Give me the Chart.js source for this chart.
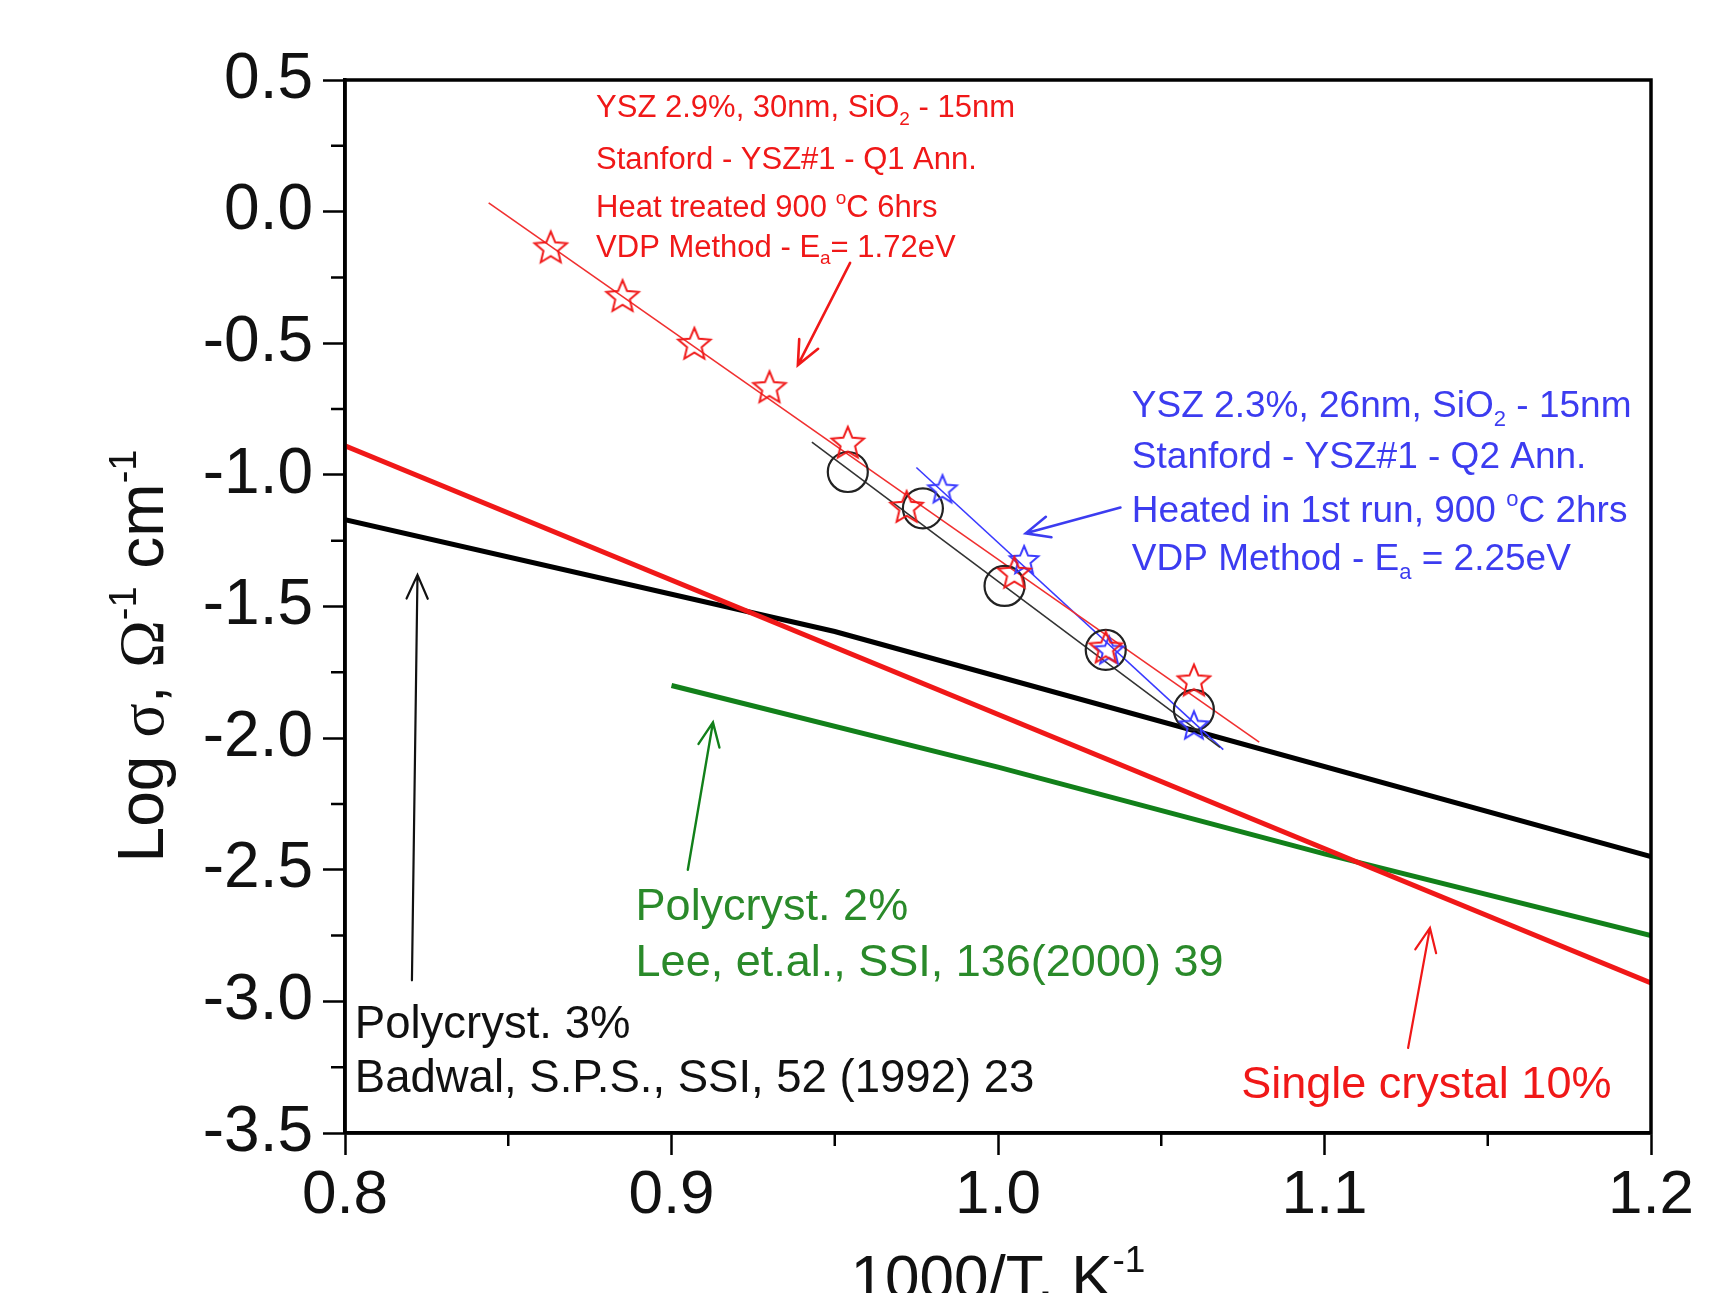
<!DOCTYPE html>
<html>
<head>
<meta charset="utf-8">
<title>Log sigma vs 1000/T</title>
<script src="https://cdn.jsdelivr.net/npm/chart.js@4.4.1/dist/chart.umd.min.js"></script>
<style>
  html, body { margin: 0; padding: 0; background: #fff; }
  canvas { display: block; }
</style>
</head>
<body>
<canvas id="arrhenius" width="1722" height="1293"></canvas>
<script>
// ---- values: x = 1000/T (1/K), y = log sigma ----
const xTicks = [0.8, 0.9, 1.0, 1.1, 1.2];
const yTicks = [-3.5, -3.0, -2.5, -2.0, -1.5, -1.0, -0.5, 0.0, 0.5];

// literature lines
const singleX = [0.80, 1.20];
const singleY = [-0.89, -2.93];
const badwalX = [0.80, 0.95, 1.20];
const badwalY = [-1.17, -1.595, -2.45];
const leeX = [0.90, 1.00, 1.10, 1.20];
const leeY = [-1.80, -2.11, -2.44, -2.75];

// Q1 annealed film (red stars) + fit
const q1X = [0.863, 0.885, 0.907, 0.930, 0.954, 0.972, 1.005, 1.033, 1.060];
const q1Y = [-0.14, -0.325, -0.506, -0.671, -0.882, -1.126, -1.376, -1.660, -1.785];
const q1FitX = [0.844, 1.080];
const q1FitY = [0.033, -2.015];

// open circles + fit
const circX = [0.954, 0.977, 1.002, 1.033, 1.060];
const circY = [-0.989, -1.127, -1.422, -1.665, -1.893];
const circFitX = [0.943, 1.068];
const circFitY = [-0.876, -2.035];

// Q2 annealed film (blue stars) + fit
const q2X = [0.983, 1.008, 1.034, 1.060];
const q2Y = [-1.058, -1.327, -1.670, -1.955];
const q2FitX = [0.975, 1.069];
const q2FitY = [-0.972, -2.044];

const RED = '#f01818';
const BLUE = '#3c3cf0';
const GREEN = '#12801a';
const SANS = "'Liberation Sans', Arial, sans-serif";
const SERIF = "'Liberation Serif', 'DejaVu Serif', serif";

function pts(xs, ys) {
    return xs.map((x, i) => ({ x: x, y: ys[i] }));
}

// open five-pointed star used as a point style
function makeStar(color, r, lw) {
    const c = document.createElement('canvas');
    const s = Math.ceil(2 * r + 2 * lw + 2);
    c.width = s; c.height = s;
    const g = c.getContext('2d');
    g.strokeStyle = color;
    g.lineWidth = lw;
    g.beginPath();
    for (let i = 0; i < 10; i++) {
        const rad = i % 2 === 0 ? r : r * 0.45;
        const a = -Math.PI / 2 + i * Math.PI / 5;
        const px = s / 2 + rad * Math.cos(a);
        const py = s / 2 + rad * Math.sin(a);
        if (i === 0) g.moveTo(px, py); else g.lineTo(px, py);
    }
    g.closePath();
    g.stroke();
    return c;
}

// very small rich-text: ^{sup}, _{sub}, ~{serif}
function parseRich(str) {
    const out = [];
    const re = /([\^_~])\{([^}]*)\}/g;
    let last = 0, m;
    while ((m = re.exec(str))) {
        if (m.index > last) out.push({ t: str.slice(last, m.index), mode: 'n' });
        out.push({ t: m[2], mode: m[1] === '^' ? 'sup' : (m[1] === '_' ? 'sub' : 'serif') });
        last = re.lastIndex;
    }
    if (last < str.length) out.push({ t: str.slice(last), mode: 'n' });
    return out;
}

function drawRich(ctx, str, x, y, size, color, align) {
    const segs = parseRich(str);
    ctx.save();
    ctx.fillStyle = color;
    ctx.textBaseline = 'alphabetic';
    ctx.textAlign = 'left';
    let total = 0;
    segs.forEach(s => {
        const small = s.mode === 'sup' || s.mode === 'sub';
        s.font = (small ? Math.round(size * 0.6) : size) + 'px ' + (s.mode === 'serif' ? SERIF : SANS);
        ctx.font = s.font;
        s.w = ctx.measureText(s.t).width;
        total += s.w;
    });
    let cx = align === 'center' ? x - total / 2 : x;
    segs.forEach(s => {
        ctx.font = s.font;
        let dy = 0;
        if (s.mode === 'sup') dy = -0.42 * size;
        if (s.mode === 'sub') dy = 0.24 * size;
        ctx.fillText(s.t, cx, y + dy);
        cx += s.w;
    });
    ctx.restore();
}

function drawArrow(ctx, x1, y1, x2, y2, color, width) {
    const ang = Math.atan2(y2 - y1, x2 - x1);
    const head = 26, spread = 0.42;
    ctx.save();
    ctx.strokeStyle = color;
    ctx.lineWidth = width;
    ctx.lineCap = 'round';
    ctx.beginPath();
    ctx.moveTo(x1, y1);
    ctx.lineTo(x2, y2);
    ctx.moveTo(x2 - head * Math.cos(ang - spread), y2 - head * Math.sin(ang - spread));
    ctx.lineTo(x2, y2);
    ctx.lineTo(x2 - head * Math.cos(ang + spread), y2 - head * Math.sin(ang + spread));
    ctx.stroke();
    ctx.restore();
}

// annotations, anchored in data units
const arrows = [
    { from: [0.9547, -0.195], to: [0.9387, -0.583], color: RED, width: 2.6 },
    { from: [1.0375, -1.124], to: [1.0085, -1.222], color: BLUE, width: 2.6 },
    { from: [0.8205, -2.920], to: [0.8222, -1.380], color: '#111', width: 2.2 },
    { from: [0.9050, -2.500], to: [0.9127, -1.940], color: GREEN, width: 2.4 },
    { from: [1.1256, -3.177], to: [1.1323, -2.721], color: RED, width: 2.2 }
];

const notes = [
    { x: 0.8769, y: 0.359, size: 31, color: RED, text: 'YSZ 2.9%, 30nm, SiO_{2} - 15nm' },
    { x: 0.8769, y: 0.162, size: 31, color: RED, text: 'Stanford - YSZ#1 - Q1 Ann.' },
    { x: 0.8769, y: -0.020, size: 31, color: RED, text: 'Heat treated 900 ^{o}C 6hrs' },
    { x: 0.8769, y: -0.172, size: 31, color: RED, text: 'VDP Method - E_{a}= 1.72eV' },
    { x: 1.0410, y: -0.780, size: 37, color: BLUE, text: 'YSZ 2.3%, 26nm, SiO_{2} - 15nm' },
    { x: 1.0410, y: -0.974, size: 37, color: BLUE, text: 'Stanford - YSZ#1 - Q2 Ann.' },
    { x: 1.0410, y: -1.179, size: 37, color: BLUE, text: 'Heated in 1st run, 900 ^{o}C 2hrs' },
    { x: 1.0410, y: -1.361, size: 37, color: BLUE, text: 'VDP Method - E_{a} = 2.25eV' },
    { x: 0.8890, y: -2.691, size: 45, color: '#2a8a2a', text: 'Polycryst. 2%' },
    { x: 0.8890, y: -2.904, size: 45, color: '#2a8a2a', text: 'Lee, et.al., SSI, 136(2000) 39' },
    { x: 0.8030, y: -3.139, size: 45.5, color: '#111', text: 'Polycryst. 3%' },
    { x: 0.8030, y: -3.344, size: 45.5, color: '#111', text: 'Badwal, S.P.S., SSI, 52 (1992) 23' },
    { x: 1.0745, y: -3.367, size: 45, color: RED, text: 'Single crystal 10%' }
];

const annotationPlugin = {
    id: 'notes',
    afterDatasetsDraw(chart) {
        const ctx = chart.ctx;
        const sx = chart.scales.x, sy = chart.scales.y;
        arrows.forEach(a => {
            drawArrow(ctx,
                sx.getPixelForValue(a.from[0]), sy.getPixelForValue(a.from[1]),
                sx.getPixelForValue(a.to[0]), sy.getPixelForValue(a.to[1]),
                a.color, a.width);
        });
        notes.forEach(n => {
            drawRich(ctx, n.text, sx.getPixelForValue(n.x), sy.getPixelForValue(n.y), n.size, n.color, 'left');
        });
    }
};

// frame, minor ticks and axis titles
const framePlugin = {
    id: 'frame',
    afterDraw(chart) {
        const ctx = chart.ctx;
        const area = chart.chartArea;
        const sx = chart.scales.x, sy = chart.scales.y;
        ctx.save();
        ctx.strokeStyle = '#000';
        ctx.lineWidth = 3.5;
        ctx.strokeRect(area.left, area.top, area.right - area.left, area.bottom - area.top);

        ctx.lineWidth = 2.5;
        ctx.beginPath();
        for (let i = 0; i < xTicks.length - 1; i++) {
            const px = sx.getPixelForValue((xTicks[i] + xTicks[i + 1]) / 2);
            ctx.moveTo(px, area.bottom);
            ctx.lineTo(px, area.bottom + 13);
        }
        for (let i = 0; i < yTicks.length - 1; i++) {
            const py = sy.getPixelForValue((yTicks[i] + yTicks[i + 1]) / 2);
            ctx.moveTo(area.left, py);
            ctx.lineTo(area.left - 14, py);
        }
        ctx.stroke();
        ctx.restore();

        // axis titles
        drawRich(ctx, '1000/T, K^{-1}', (area.left + area.right) / 2, 1298, 62, '#111', 'center');
        ctx.save();
        ctx.translate(163, 656);
        ctx.rotate(-Math.PI / 2);
        drawRich(ctx, 'Log ~{σ}, ~{Ω}^{-1} cm^{-1}', 0, 0, 64, '#111', 'center');
        ctx.restore();
    }
};

const starRed = makeStar(RED, 17, 2);
const starBlue = makeStar('#3a3aff', 15, 2);

new Chart(document.getElementById('arrhenius'), {
    type: 'scatter',
    data: {
        datasets: [
            { label: 'Q1 Ann.', data: pts(q1X, q1Y), pointStyle: starRed, pointRadius: 17, showLine: false, order: 1 },
            { label: 'Q2 Ann.', data: pts(q2X, q2Y), pointStyle: starBlue, pointRadius: 15, showLine: false, order: 1 },
            { label: 'circles', data: pts(circX, circY), pointStyle: 'circle', pointRadius: 20,
              borderColor: '#222', backgroundColor: 'rgba(0,0,0,0)', borderWidth: 2.2, showLine: false, order: 1 },
            { label: 'Q1 fit', data: pts(q1FitX, q1FitY), showLine: true, borderColor: '#f03030', borderWidth: 1.6, pointRadius: 0, order: 2 },
            { label: 'circle fit', data: pts(circFitX, circFitY), showLine: true, borderColor: '#333', borderWidth: 1.6, pointRadius: 0, order: 2 },
            { label: 'Q2 fit', data: pts(q2FitX, q2FitY), showLine: true, borderColor: '#3a3aff', borderWidth: 1.6, pointRadius: 0, order: 2 },
            { label: 'Single crystal 10%', data: pts(singleX, singleY), showLine: true, borderColor: RED, borderWidth: 5, pointRadius: 0, order: 3 },
            { label: 'Polycryst. 3%', data: pts(badwalX, badwalY), showLine: true, borderColor: '#000', borderWidth: 5, pointRadius: 0, order: 3 },
            { label: 'Polycryst. 2%', data: pts(leeX, leeY), showLine: true, borderColor: GREEN, borderWidth: 5, pointRadius: 0, order: 3 }
        ]
    },
    options: {
        responsive: false,
        animation: false,
        devicePixelRatio: 1,
        layout: { padding: { top: 80, right: 71, left: 0, bottom: 0 } },
        plugins: {
            legend: { display: false },
            tooltip: { enabled: false }
        },
        scales: {
            x: {
                type: 'linear',
                min: 0.8,
                max: 1.2,
                afterBuildTicks: s => { s.ticks = xTicks.map(v => ({ value: v })); },
                afterFit: s => { s.height = 160; },
                ticks: {
                    callback: v => Number(v).toFixed(1),
                    font: { family: SANS, size: 62 },
                    color: '#111',
                    padding: 4,
                    maxRotation: 0,
                    autoSkip: false
                },
                grid: { drawOnChartArea: false, tickLength: 22, tickWidth: 2.5, tickColor: '#000' },
                border: { color: '#000', width: 3.5 }
            },
            y: {
                type: 'linear',
                min: -3.5,
                max: 0.5,
                afterBuildTicks: s => { s.ticks = yTicks.map(v => ({ value: v })); },
                afterFit: s => { s.width = 345; },
                ticks: {
                    callback: v => Number(v).toFixed(1),
                    font: { family: SANS, size: 64 },
                    color: '#111',
                    padding: 10,
                    autoSkip: false
                },
                grid: { drawOnChartArea: false, tickLength: 22, tickWidth: 2.5, tickColor: '#000' },
                border: { color: '#000', width: 3.5 }
            }
        }
    },
    plugins: [annotationPlugin, framePlugin]
});
</script>
</body>
</html>
